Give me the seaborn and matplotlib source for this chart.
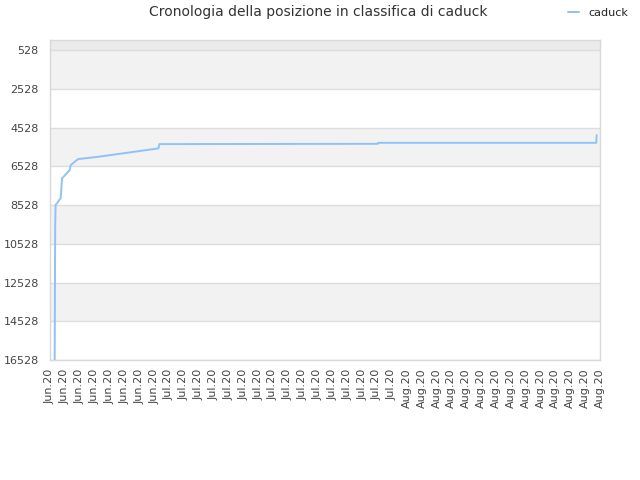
import pandas as pd
import matplotlib
matplotlib.use("Agg")
import matplotlib.pyplot as plt
import seaborn as sns

# ranking history of "caduck" (days after 15 Jun 2020, rank)
days = [0.63, 0.70, 0.75, 1.44, 1.62, 2.65, 2.79, 3.77, 6.46, 14.58, 14.71, 44.1, 44.15, 73.5, 73.55]
ranks = [16528, 9560, 8526, 8165, 7148, 6720, 6462, 6152, 6034, 5600, 5378, 5363, 5311, 5311, 4914]
player = "caduck"
start = pd.Timestamp("2020-06-15")
end = pd.Timestamp("2020-08-28")
rank_ticks = list(range(528, 16529, 2000))

df = pd.DataFrame({"time": start + pd.to_timedelta(days, unit="D"), "rank": ranks})

sns.set_style("white")
plt.rcParams["font.family"] = ["DejaVu Sans"]

fig = plt.figure(figsize=(6.4, 4.8), dpi=100)
ax = fig.add_axes([50 / 640, 120 / 480, 550 / 640, 320 / 480])

# alternating bands between the gridlines
ax.axhspan(1, rank_ticks[0], color="#ebebeb", zorder=0, lw=0)
for i in range(0, len(rank_ticks) - 1, 2):
    ax.axhspan(rank_ticks[i], rank_ticks[i + 1], color="#f2f2f2", zorder=0, lw=0)
for t in rank_ticks:
    ax.axhline(t, color="#dddddd", lw=1, zorder=1)

sns.lineplot(data=df, x="time", y="rank", ax=ax, color="#90c2f5", lw=1.4,
             label=player, legend=False, zorder=3)

ax.set_ylim(rank_ticks[-1], 1)
ax.set_yticks(rank_ticks)
ax.set_yticklabels([str(t) for t in rank_ticks])

tick_dates = pd.date_range(start, end, freq="2D")
ax.set_xlim(start, end)
ax.set_xticks(tick_dates)
ax.set_xticklabels([d.strftime("%b.%y") for d in tick_dates], rotation=90)

ax.set_xlabel("")
ax.set_ylabel("")
ax.tick_params(axis="both", length=0, labelsize=8, labelcolor="#444444")
ax.tick_params(axis="y", pad=8)
ax.tick_params(axis="x", pad=6)
for s in ax.spines.values():
    s.set_color("#d8d8d8")
    s.set_linewidth(1)

fig.suptitle("Cronologia della posizione in classifica di caduck", x=318 / 640, y=1 - 12 / 480,
             va="center", fontsize=10, color="#333333")

handles, labels = ax.get_legend_handles_labels()
fig.legend(handles, labels, loc="center left", bbox_to_anchor=(558 / 640, 1 - 13 / 480),
           frameon=False, handlelength=1.0, handletextpad=0.8, fontsize=8, labelcolor="#222222")

fig.savefig("out.png", dpi=100)
